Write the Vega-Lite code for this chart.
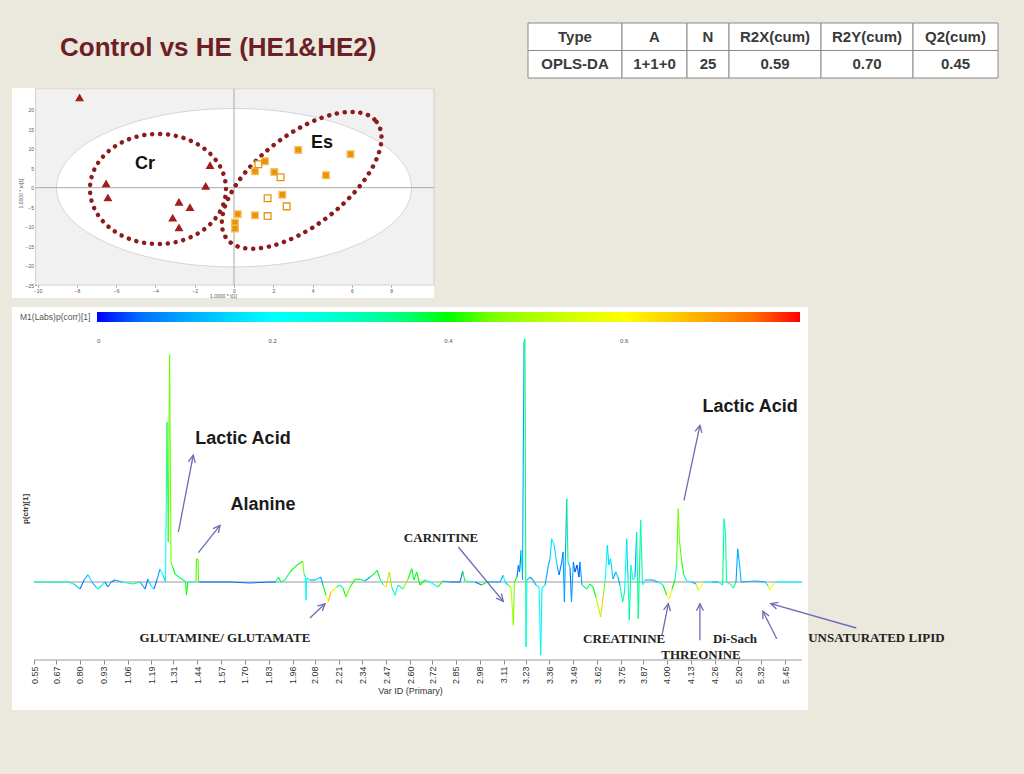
{
  "$schema": "https://vega.github.io/schema/vega-lite/v6.json",
  "background": "#ebe8dd",
  "padding": {"left": 12, "top": 22, "right": 27, "bottom": 66},
  "config": {
    "view": {"stroke": null},
    "font": "Liberation Sans",
    "axis": {"labelFont": "Liberation Sans", "titleFont": "Liberation Sans", "grid": false, "labelOverlap": false}
  },
  "resolve": {"scale": {"color": "independent", "fill": "independent", "stroke": "independent", "shape": "independent"}, "legend": {"color": "independent"}},
  "datasets": {
    "tbl": [
      {"col": "Type", "row": "h", "t": "Type"}, {"col": "Type", "row": "b", "t": "OPLS-DA"},
      {"col": "A", "row": "h", "t": "A"}, {"col": "A", "row": "b", "t": "1+1+0"},
      {"col": "N", "row": "h", "t": "N"}, {"col": "N", "row": "b", "t": "25"},
      {"col": "R2X", "row": "h", "t": "R2X(cum)"}, {"col": "R2X", "row": "b", "t": "0.59"},
      {"col": "R2Y", "row": "h", "t": "R2Y(cum)"}, {"col": "R2Y", "row": "b", "t": "0.70"},
      {"col": "Q2", "row": "h", "t": "Q2(cum)"}, {"col": "Q2", "row": "b", "t": "0.45"}
    ],
    "scores": [
      {"cls": "Control", "t1": -7.86, "to1": 23.1}, {"cls": "Control", "t1": -6.51, "to1": 1.0},
      {"cls": "Control", "t1": -6.42, "to1": -2.6}, {"cls": "Control", "t1": -1.22, "to1": 5.7},
      {"cls": "Control", "t1": -1.44, "to1": 0.4}, {"cls": "Control", "t1": -2.80, "to1": -3.7},
      {"cls": "Control", "t1": -2.24, "to1": -5.1}, {"cls": "Control", "t1": -3.12, "to1": -7.8},
      {"cls": "Control", "t1": -2.80, "to1": -10.3},
      {"cls": "HE1", "t1": 3.27, "to1": 9.7}, {"cls": "HE1", "t1": 5.93, "to1": 8.6},
      {"cls": "HE1", "t1": 1.58, "to1": 6.8}, {"cls": "HE1", "t1": 1.07, "to1": 4.2},
      {"cls": "HE1", "t1": 2.05, "to1": 4.0}, {"cls": "HE1", "t1": 4.68, "to1": 3.2},
      {"cls": "HE1", "t1": 2.46, "to1": -1.8}, {"cls": "HE1", "t1": 0.19, "to1": -6.8},
      {"cls": "HE1", "t1": 1.07, "to1": -7.1}, {"cls": "HE1", "t1": 0.05, "to1": -9.0},
      {"cls": "HE1", "t1": 0.05, "to1": -10.5},
      {"cls": "HE2", "t1": 1.24, "to1": 6.0}, {"cls": "HE2", "t1": 2.37, "to1": 2.7},
      {"cls": "HE2", "t1": 1.71, "to1": -2.7}, {"cls": "HE2", "t1": 2.68, "to1": -4.8},
      {"cls": "HE2", "t1": 1.71, "to1": -7.3}
    ],
    "spectrum": [
      {"ppm": 0.550, "p": 0, "c": 0.3}, {"ppm": 0.637, "p": 0, "c": 0.32}, {"ppm": 0.735, "p": 0, "c": 0.3},
      {"ppm": 0.768, "p": -0.02, "c": 0.15}, {"ppm": 0.801, "p": -0.07, "c": 0.05}, {"ppm": 0.823, "p": 0.02, "c": 0.1},
      {"ppm": 0.844, "p": 0.073, "c": 0.15}, {"ppm": 0.866, "p": 0, "c": 0.1}, {"ppm": 0.888, "p": -0.05, "c": 0.2},
      {"ppm": 0.900, "p": -0.07, "c": 0.3}, {"ppm": 0.921, "p": -0.03, "c": 0.2}, {"ppm": 0.937, "p": 0, "c": 0.05},
      {"ppm": 0.953, "p": -0.05, "c": 0.1}, {"ppm": 0.970, "p": 0, "c": 0.05}, {"ppm": 0.992, "p": 0.02, "c": 0.1},
      {"ppm": 1.030, "p": 0, "c": 0.3}, {"ppm": 1.090, "p": -0.02, "c": 0.35}, {"ppm": 1.128, "p": 0, "c": 0.1},
      {"ppm": 1.155, "p": -0.07, "c": 0.05}, {"ppm": 1.171, "p": 0.03, "c": 0.15}, {"ppm": 1.188, "p": -0.04, "c": 0.2},
      {"ppm": 1.204, "p": -0.07, "c": 0.05}, {"ppm": 1.220, "p": 0.02, "c": 0.1}, {"ppm": 1.237, "p": 0.13, "c": 0.2},
      {"ppm": 1.253, "p": 0.07, "c": 0.15}, {"ppm": 1.267, "p": 0, "c": 0.2}, {"ppm": 1.275, "p": 1.60, "c": 0.42},
      {"ppm": 1.282, "p": 0.40, "c": 0.42}, {"ppm": 1.289, "p": 2.273, "c": 0.44}, {"ppm": 1.297, "p": 0.20, "c": 0.42},
      {"ppm": 1.308, "p": 0.14, "c": 0.4}, {"ppm": 1.319, "p": 0.08, "c": 0.35}, {"ppm": 1.346, "p": 0.04, "c": 0.35},
      {"ppm": 1.373, "p": 0.01, "c": 0.3}, {"ppm": 1.376, "p": 0, "c": 0.4}, {"ppm": 1.381, "p": -0.13, "c": 0.4},
      {"ppm": 1.389, "p": 0, "c": 0.3}, {"ppm": 1.400, "p": 0, "c": 0.2}, {"ppm": 1.428, "p": 0, "c": 0.2},
      {"ppm": 1.433, "p": 0, "c": 0.42}, {"ppm": 1.436, "p": 0.23, "c": 0.42}, {"ppm": 1.444, "p": 0.23, "c": 0.42},
      {"ppm": 1.447, "p": 0, "c": 0.1}, {"ppm": 1.455, "p": 0, "c": 0.05}, {"ppm": 1.618, "p": 0, "c": 0.05},
      {"ppm": 1.727, "p": -0.01, "c": 0.05}, {"ppm": 1.836, "p": 0, "c": 0.05}, {"ppm": 1.869, "p": 0, "c": 0.3},
      {"ppm": 1.882, "p": 0.05, "c": 0.4}, {"ppm": 1.896, "p": 0, "c": 0.3}, {"ppm": 1.918, "p": 0.02, "c": 0.35},
      {"ppm": 1.945, "p": 0.10, "c": 0.4}, {"ppm": 1.982, "p": 0.167, "c": 0.4}, {"ppm": 2.015, "p": 0.207, "c": 0.45},
      {"ppm": 2.022, "p": 0.08, "c": 0.35}, {"ppm": 2.030, "p": 0.05, "c": 0.2}, {"ppm": 2.033, "p": -0.183, "c": 0.2},
      {"ppm": 2.037, "p": 0.04, "c": 0.2}, {"ppm": 2.054, "p": 0.02, "c": 0.1}, {"ppm": 2.082, "p": 0.02, "c": 0.15},
      {"ppm": 2.113, "p": 0.05, "c": 0.1}, {"ppm": 2.125, "p": -0.03, "c": 0.4}, {"ppm": 2.142, "p": -0.133, "c": 0.6},
      {"ppm": 2.154, "p": -0.193, "c": 0.68}, {"ppm": 2.169, "p": -0.10, "c": 0.55}, {"ppm": 2.200, "p": -0.05, "c": 0.35},
      {"ppm": 2.218, "p": -0.03, "c": 0.25}, {"ppm": 2.234, "p": -0.06, "c": 0.4}, {"ppm": 2.251, "p": -0.15, "c": 0.45},
      {"ppm": 2.273, "p": -0.05, "c": 0.4}, {"ppm": 2.300, "p": 0.027, "c": 0.4}, {"ppm": 2.327, "p": 0.027, "c": 0.35},
      {"ppm": 2.354, "p": 0.01, "c": 0.1}, {"ppm": 2.382, "p": 0.05, "c": 0.35}, {"ppm": 2.403, "p": 0.08, "c": 0.4},
      {"ppm": 2.421, "p": 0.117, "c": 0.4}, {"ppm": 2.436, "p": 0.03, "c": 0.3}, {"ppm": 2.454, "p": -0.03, "c": 0.6},
      {"ppm": 2.469, "p": -0.05, "c": 0.65}, {"ppm": 2.487, "p": 0.10, "c": 0.45}, {"ppm": 2.500, "p": -0.05, "c": 0.3},
      {"ppm": 2.518, "p": -0.133, "c": 0.2}, {"ppm": 2.534, "p": -0.03, "c": 0.3}, {"ppm": 2.561, "p": -0.07, "c": 0.45},
      {"ppm": 2.589, "p": 0.03, "c": 0.4}, {"ppm": 2.609, "p": 0.133, "c": 0.4}, {"ppm": 2.621, "p": 0.02, "c": 0.35},
      {"ppm": 2.636, "p": 0.10, "c": 0.4}, {"ppm": 2.654, "p": -0.03, "c": 0.4}, {"ppm": 2.681, "p": 0.02, "c": 0.3},
      {"ppm": 2.709, "p": 0, "c": 0.2}, {"ppm": 2.752, "p": -0.05, "c": 0.4}, {"ppm": 2.779, "p": 0.01, "c": 0.1},
      {"ppm": 2.818, "p": 0, "c": 0.05}, {"ppm": 2.872, "p": 0, "c": 0.05}, {"ppm": 2.887, "p": 0.107, "c": 0.4},
      {"ppm": 2.899, "p": 0.01, "c": 0.3}, {"ppm": 2.954, "p": 0, "c": 0.05}, {"ppm": 2.990, "p": -0.03, "c": 0.4},
      {"ppm": 3.019, "p": 0, "c": 0.1}, {"ppm": 3.090, "p": 0, "c": 0.1}, {"ppm": 3.108, "p": 0.067, "c": 0.2},
      {"ppm": 3.117, "p": 0, "c": 0.15}, {"ppm": 3.134, "p": -0.03, "c": 0.45}, {"ppm": 3.150, "p": -0.05, "c": 0.5},
      {"ppm": 3.163, "p": -0.433, "c": 0.45}, {"ppm": 3.169, "p": 0, "c": 0.4}, {"ppm": 3.183, "p": 0.05, "c": 0.05},
      {"ppm": 3.190, "p": 0.167, "c": 0.05}, {"ppm": 3.197, "p": 0.10, "c": 0.05}, {"ppm": 3.205, "p": 0.317, "c": 0.3},
      {"ppm": 3.213, "p": 0.02, "c": 0.1}, {"ppm": 3.221, "p": 2.40, "c": 0.3}, {"ppm": 3.226, "p": 2.433, "c": 0.35},
      {"ppm": 3.232, "p": -0.65, "c": 0.22}, {"ppm": 3.237, "p": 0.02, "c": 0.15}, {"ppm": 3.254, "p": 0.05, "c": 0.1},
      {"ppm": 3.270, "p": 0.02, "c": 0.1}, {"ppm": 3.286, "p": -0.03, "c": 0.3}, {"ppm": 3.303, "p": -0.05, "c": 0.2},
      {"ppm": 3.312, "p": -0.733, "c": 0.18}, {"ppm": 3.319, "p": -0.06, "c": 0.2}, {"ppm": 3.336, "p": -0.03, "c": 0.1},
      {"ppm": 3.354, "p": 0.167, "c": 0.1}, {"ppm": 3.363, "p": 0.233, "c": 0.15}, {"ppm": 3.372, "p": 0.433, "c": 0.2},
      {"ppm": 3.385, "p": 0.37, "c": 0.15}, {"ppm": 3.401, "p": 0.17, "c": 0.1}, {"ppm": 3.412, "p": 0.07, "c": 0.05},
      {"ppm": 3.427, "p": 0.20, "c": 0.05}, {"ppm": 3.434, "p": 0.30, "c": 0.1}, {"ppm": 3.441, "p": -0.20, "c": 0.1},
      {"ppm": 3.454, "p": 0.833, "c": 0.35}, {"ppm": 3.461, "p": 0.20, "c": 0.15}, {"ppm": 3.472, "p": 0.14, "c": 0.05},
      {"ppm": 3.480, "p": -0.20, "c": 0.1}, {"ppm": 3.490, "p": 0.20, "c": 0.05}, {"ppm": 3.499, "p": 0.10, "c": 0.03},
      {"ppm": 3.510, "p": 0.17, "c": 0.03}, {"ppm": 3.521, "p": 0.05, "c": 0.03}, {"ppm": 3.526, "p": 0.20, "c": 0.1},
      {"ppm": 3.537, "p": -0.03, "c": 0.3}, {"ppm": 3.563, "p": -0.07, "c": 0.4}, {"ppm": 3.581, "p": -0.02, "c": 0.35},
      {"ppm": 3.597, "p": -0.05, "c": 0.4}, {"ppm": 3.613, "p": -0.15, "c": 0.5}, {"ppm": 3.639, "p": -0.35, "c": 0.65},
      {"ppm": 3.652, "p": -0.15, "c": 0.45}, {"ppm": 3.663, "p": 0, "c": 0.2}, {"ppm": 3.675, "p": 0.367, "c": 0.15},
      {"ppm": 3.684, "p": 0.17, "c": 0.15}, {"ppm": 3.693, "p": 0.233, "c": 0.15}, {"ppm": 3.706, "p": 0.03, "c": 0.1},
      {"ppm": 3.722, "p": 0.10, "c": 0.15}, {"ppm": 3.733, "p": 0.05, "c": 0.1}, {"ppm": 3.744, "p": -0.03, "c": 0.3},
      {"ppm": 3.759, "p": -0.20, "c": 0.35}, {"ppm": 3.769, "p": -0.10, "c": 0.25}, {"ppm": 3.781, "p": 0.433, "c": 0.15},
      {"ppm": 3.788, "p": 0.02, "c": 0.2}, {"ppm": 3.795, "p": -0.383, "c": 0.35}, {"ppm": 3.804, "p": 0.17, "c": 0.2},
      {"ppm": 3.815, "p": 0.02, "c": 0.2}, {"ppm": 3.826, "p": 0.05, "c": 0.1}, {"ppm": 3.835, "p": 0.50, "c": 0.3},
      {"ppm": 3.844, "p": -0.367, "c": 0.35}, {"ppm": 3.857, "p": 0.617, "c": 0.3}, {"ppm": 3.867, "p": -0.03, "c": 0.2},
      {"ppm": 3.881, "p": 0.02, "c": 0.1}, {"ppm": 3.924, "p": 0.02, "c": 0.1}, {"ppm": 3.951, "p": 0, "c": 0.2},
      {"ppm": 3.979, "p": -0.03, "c": 0.4}, {"ppm": 3.999, "p": -0.133, "c": 0.6}, {"ppm": 4.013, "p": -0.167, "c": 0.62},
      {"ppm": 4.028, "p": -0.07, "c": 0.4}, {"ppm": 4.044, "p": 0.02, "c": 0.3}, {"ppm": 4.053, "p": 0.167, "c": 0.42},
      {"ppm": 4.062, "p": 0.733, "c": 0.45}, {"ppm": 4.069, "p": 0.40, "c": 0.42}, {"ppm": 4.081, "p": 0.20, "c": 0.4},
      {"ppm": 4.091, "p": 0.08, "c": 0.3}, {"ppm": 4.108, "p": 0.01, "c": 0.2}, {"ppm": 4.137, "p": 0, "c": 0.1},
      {"ppm": 4.159, "p": -0.02, "c": 0.5}, {"ppm": 4.171, "p": -0.083, "c": 0.6}, {"ppm": 4.186, "p": -0.05, "c": 0.58},
      {"ppm": 4.198, "p": 0, "c": 0.2}, {"ppm": 4.246, "p": 0, "c": 0.1}, {"ppm": 4.396, "p": 0, "c": 0.2},
      {"ppm": 4.584, "p": -0.03, "c": 0.35}, {"ppm": 4.616, "p": 0.40, "c": 0.3}, {"ppm": 4.636, "p": 0.633, "c": 0.3},
      {"ppm": 4.697, "p": 0.47, "c": 0.3}, {"ppm": 4.737, "p": 0, "c": 0.2}, {"ppm": 4.877, "p": -0.02, "c": 0.3},
      {"ppm": 5.009, "p": -0.06, "c": 0.35}, {"ppm": 5.117, "p": 0, "c": 0.1}, {"ppm": 5.185, "p": 0.333, "c": 0.12},
      {"ppm": 5.208, "p": 0.17, "c": 0.12}, {"ppm": 5.216, "p": 0, "c": 0.1}, {"ppm": 5.291, "p": 0.01, "c": 0.1},
      {"ppm": 5.344, "p": 0, "c": 0.15}, {"ppm": 5.360, "p": -0.04, "c": 0.55}, {"ppm": 5.370, "p": -0.083, "c": 0.6},
      {"ppm": 5.381, "p": -0.04, "c": 0.55}, {"ppm": 5.397, "p": 0, "c": 0.2}, {"ppm": 5.541, "p": 0, "c": 0.15}
    ],
    "arrows": [
      {"x1": 1.337, "y1": 0.50, "x2": 1.418, "y2": 1.267, "dir": 11},
      {"x1": 1.446, "y1": 0.293, "x2": 1.564, "y2": 0.567, "dir": 38},
      {"x1": 2.863, "y1": 0.35, "x2": 3.108, "y2": -0.193, "dir": 140},
      {"x1": 2.054, "y1": -0.36, "x2": 2.136, "y2": -0.217, "dir": 46},
      {"x1": 4.093, "y1": 0.817, "x2": 4.180, "y2": 1.567, "dir": 12},
      {"x1": 3.973, "y1": -0.533, "x2": 4.008, "y2": -0.217, "dir": 11},
      {"x1": 4.180, "y1": -0.583, "x2": 4.180, "y2": -0.217, "dir": 0},
      {"x1": 5.406, "y1": -0.567, "x2": 5.332, "y2": -0.293, "dir": 333},
      {"x1": 5.828, "y1": -0.46, "x2": 5.374, "y2": -0.217, "dir": 287}
    ],
    "labelsSans": [
      {"t": "Lactic Acid", "x": 1.689, "y": 1.43},
      {"t": "Alanine", "x": 1.798, "y": 0.77},
      {"t": "Lactic Acid", "x": 5.264, "y": 1.75}
    ],
    "labelsSerif": [
      {"t": "CARNITINE", "x": 2.769, "y": 0.44},
      {"t": "GLUTAMINE/  GLUTAMATE", "x": 1.591, "y": -0.56},
      {"t": "CREATININE", "x": 3.767, "y": -0.567},
      {"t": "THREONINE", "x": 4.186, "y": -0.727},
      {"t": "Di-Sach", "x": 5.077, "y": -0.567},
      {"t": "UNSATURATED  LIPID", "x": 5.935, "y": -0.56}
    ]
  },
  "spacing": 9,
  "vconcat": [
    {
      "spacing": 93,
      "hconcat": [
        {
          "width": 422, "height": 55,
          "title": {"text": "Control vs HE (HE1&HE2)", "anchor": "start", "frame": "group", "offset": -59, "dx": 48, "baseline": "alphabetic", "fontSize": 26, "font": "Liberation Sans", "fontWeight": "bold", "color": "#6d1f28"},
          "data": {"values": [{}]},
          "mark": {"type": "point", "opacity": 0}
        },
        {
          "spacing": 0,
          "bounds": "flush",
          "hconcat": [
            {"width": 94, "height": 55, "data": {"name": "tbl"}, "transform": [{"filter": "datum.col === 'Type'"}],
             "encoding": {"y": {"field": "row", "type": "nominal", "sort": ["h", "b"], "axis": null, "scale": {"paddingInner": 0, "paddingOuter": 0}}},
             "layer": [{"mark": {"type": "rect", "fill": "#ffffff", "stroke": "#8a8a8a", "strokeWidth": 1}},
                       {"mark": {"type": "text", "fontSize": 15, "fontWeight": "bold", "color": "#3a3a3a"}, "encoding": {"text": {"field": "t"}}}]},
            {"width": 65, "height": 55, "data": {"name": "tbl"}, "transform": [{"filter": "datum.col === 'A'"}],
             "encoding": {"y": {"field": "row", "type": "nominal", "sort": ["h", "b"], "axis": null, "scale": {"paddingInner": 0, "paddingOuter": 0}}},
             "layer": [{"mark": {"type": "rect", "fill": "#ffffff", "stroke": "#8a8a8a", "strokeWidth": 1}},
                       {"mark": {"type": "text", "fontSize": 15, "fontWeight": "bold", "color": "#3a3a3a"}, "encoding": {"text": {"field": "t"}}}]},
            {"width": 42, "height": 55, "data": {"name": "tbl"}, "transform": [{"filter": "datum.col === 'N'"}],
             "encoding": {"y": {"field": "row", "type": "nominal", "sort": ["h", "b"], "axis": null, "scale": {"paddingInner": 0, "paddingOuter": 0}}},
             "layer": [{"mark": {"type": "rect", "fill": "#ffffff", "stroke": "#8a8a8a", "strokeWidth": 1}},
                       {"mark": {"type": "text", "fontSize": 15, "fontWeight": "bold", "color": "#3a3a3a"}, "encoding": {"text": {"field": "t"}}}]},
            {"width": 92, "height": 55, "data": {"name": "tbl"}, "transform": [{"filter": "datum.col === 'R2X'"}],
             "encoding": {"y": {"field": "row", "type": "nominal", "sort": ["h", "b"], "axis": null, "scale": {"paddingInner": 0, "paddingOuter": 0}}},
             "layer": [{"mark": {"type": "rect", "fill": "#ffffff", "stroke": "#8a8a8a", "strokeWidth": 1}},
                       {"mark": {"type": "text", "fontSize": 15, "fontWeight": "bold", "color": "#3a3a3a"}, "encoding": {"text": {"field": "t"}}}]},
            {"width": 92, "height": 55, "data": {"name": "tbl"}, "transform": [{"filter": "datum.col === 'R2Y'"}],
             "encoding": {"y": {"field": "row", "type": "nominal", "sort": ["h", "b"], "axis": null, "scale": {"paddingInner": 0, "paddingOuter": 0}}},
             "layer": [{"mark": {"type": "rect", "fill": "#ffffff", "stroke": "#8a8a8a", "strokeWidth": 1}},
                       {"mark": {"type": "text", "fontSize": 15, "fontWeight": "bold", "color": "#3a3a3a"}, "encoding": {"text": {"field": "t"}}}]},
            {"width": 85, "height": 55, "data": {"name": "tbl"}, "transform": [{"filter": "datum.col === 'Q2'"}],
             "encoding": {"y": {"field": "row", "type": "nominal", "sort": ["h", "b"], "axis": null, "scale": {"paddingInner": 0, "paddingOuter": 0}}},
             "layer": [{"mark": {"type": "rect", "fill": "#ffffff", "stroke": "#8a8a8a", "strokeWidth": 1}},
                       {"mark": {"type": "text", "fontSize": 15, "fontWeight": "bold", "color": "#3a3a3a"}, "encoding": {"text": {"field": "t"}}}]}
          ]
        }
      ]
    },
    {
      "width": 422, "height": 210,
      "view": {"fill": "#ffffff", "stroke": null},
      "layer": [
        {
          "data": {"values": [{}]},
          "mark": {"type": "rect", "fill": "#f1f1f1", "stroke": "#c8c8c8", "strokeWidth": 0.8},
          "encoding": {
            "x": {"datum": -10.1, "type": "quantitative",
                  "scale": {"domain": [-11.3, 10.18], "nice": false, "zero": false},
                  "axis": {"orient": "bottom", "offset": -13, "values": [-10, -8, -6, -4, -2, 0, 2, 4, 6, 8], "format": "d", "tickCount": 100, "labelOverlap": false, "title": "1.0000 * t[1]", "domain": false, "tickSize": 2, "tickColor": "#999999", "labelFontSize": 5, "labelColor": "#555555", "labelPadding": 1, "titleFontSize": 5, "titleFontWeight": "normal", "titleColor": "#555555", "titlePadding": 0}},
            "x2": {"datum": 10.18},
            "y": {"datum": -25, "type": "quantitative",
                  "scale": {"domain": [-28.33, 25.6], "nice": false, "zero": false},
                  "axis": {"orient": "left", "offset": -24.5, "values": [-25, -20, -15, -10, -5, 0, 5, 10, 15, 20], "format": "d", "tickCount": 100, "labelOverlap": false, "title": "1.0000 * to[1]", "domain": false, "tickSize": 2, "tickColor": "#999999", "labelFontSize": 5, "labelColor": "#555555", "labelPadding": 1, "titleFontSize": 5, "titleFontWeight": "normal", "titleColor": "#555555", "titlePadding": 2}},
            "y2": {"datum": 25.4}
          }
        },
        {
          "data": {"values": [{"t1": 0, "to1": 0}]},
          "mark": {"type": "point", "shape": "M 1 0 C 1 0.2464 0.5523 0.4462 0 0.4462 C -0.5523 0.4462 -1 0.2464 -1 0 C -1 -0.2464 -0.5523 -0.4462 0 -0.4462 C 0.5523 -0.4462 1 -0.2464 1 0 Z", "size": 126025, "filled": true, "fill": "#ffffff", "stroke": "#d6d6d6", "strokeWidth": 1, "opacity": 1},
          "encoding": {"x": {"field": "t1", "type": "quantitative"}, "y": {"field": "to1", "type": "quantitative"}}
        },
        {
          "data": {"values": [{}]},
          "mark": {"type": "rule", "color": "#a8a8a8", "strokeWidth": 1},
          "encoding": {"x": {"datum": 0, "type": "quantitative"}, "y": {"datum": -25, "type": "quantitative"}, "y2": {"datum": 25.4}}
        },
        {
          "data": {"values": [{}]},
          "mark": {"type": "rule", "color": "#a8a8a8", "strokeWidth": 1},
          "encoding": {"y": {"datum": 0, "type": "quantitative"}, "x": {"datum": -10.1, "type": "quantitative"}, "x2": {"datum": 10.18}}
        },
        {
          "data": {"values": [{"t1": -3.87, "to1": -0.33}]},
          "mark": {"type": "point", "shape": "M 1 0 C 1 0.4468 0.5523 0.809 0 0.809 C -0.5523 0.809 -1 0.4468 -1 0 C -1 -0.4468 -0.5523 -0.809 0 -0.809 C 0.5523 -0.809 1 -0.4468 1 0 Z", "size": 18496, "filled": false, "fill": "transparent", "stroke": "#8e1b1b", "strokeWidth": 4.5, "strokeDash": [0.1, 7.8], "strokeCap": "round", "opacity": 1},
          "encoding": {"x": {"field": "t1", "type": "quantitative"}, "y": {"field": "to1", "type": "quantitative"}}
        },
        {
          "data": {"values": [{"t1": 3.445, "to1": 1.9}]},
          "mark": {"type": "point", "shape": "M 0.788 -0.6157 C 0.9491 -0.4095 0.7269 0.0333 0.2917 0.3733 C -0.1435 0.7133 -0.6269 0.8219 -0.788 0.6157 C -0.9491 0.4095 -0.7269 -0.0333 -0.2917 -0.3733 C 0.1435 -0.7133 0.6269 -0.8219 0.788 -0.6157 Z", "size": 36100, "filled": false, "fill": "transparent", "stroke": "#8e1b1b", "strokeWidth": 4.5, "strokeDash": [0.1, 7.8], "strokeCap": "round", "opacity": 1},
          "encoding": {"x": {"field": "t1", "type": "quantitative"}, "y": {"field": "to1", "type": "quantitative"}}
        },
        {
          "data": {"name": "scores"},
          "mark": {"type": "point", "filled": true, "size": 45, "strokeWidth": 1.3, "opacity": 1},
          "encoding": {
            "x": {"field": "t1", "type": "quantitative"},
            "y": {"field": "to1", "type": "quantitative"},
            "shape": {"field": "cls", "type": "nominal", "scale": {"domain": ["Control", "HE1", "HE2"], "range": ["triangle-up", "square", "square"]}, "legend": null},
            "fill": {"field": "cls", "type": "nominal", "scale": {"domain": ["Control", "HE1", "HE2"], "range": ["#a31d1d", "#e8930e", "#ffffff"]}, "legend": null},
            "stroke": {"field": "cls", "type": "nominal", "scale": {"domain": ["Control", "HE1", "HE2"], "range": ["#a31d1d", "#f6c25d", "#e8930e"]}, "legend": null}
          }
        },
        {
          "data": {"values": [{"g": "Cr", "t1": -4.53, "to1": 6.1}, {"g": "Es", "t1": 4.48, "to1": 11.5}]},
          "mark": {"type": "text", "fontSize": 18, "fontWeight": "bold", "color": "#111111"},
          "encoding": {"x": {"field": "t1", "type": "quantitative"}, "y": {"field": "to1", "type": "quantitative"}, "text": {"field": "g"}}
        }
      ]
    },
    {
      "width": 796, "height": 403,
      "view": {"fill": "#ffffff", "stroke": null},
      "layer": [
        {
          "data": {"values": [{}]},
          "mark": {"type": "rule", "color": "#9a9a9a", "strokeWidth": 1},
          "encoding": {
            "x": {"datum": 0.55, "type": "quantitative",
                  "scale": {"domain": [0.43, 0.55, 4.26, 5.2, 5.45, 5.572], "range": [0, 22, 702.6, 726.1, 773, 796], "nice": false, "zero": false},
                  "axis": {"orient": "bottom", "offset": -50, "values": [0.55, 0.67, 0.80, 0.93, 1.06, 1.19, 1.31, 1.44, 1.57, 1.70, 1.83, 1.96, 2.08, 2.21, 2.34, 2.47, 2.60, 2.72, 2.85, 2.98, 3.11, 3.23, 3.36, 3.49, 3.62, 3.75, 3.87, 4.00, 4.13, 4.26, 5.20, 5.32, 5.45], "tickCount": 100, "labelOverlap": false, "labelBound": false, "format": ".2f", "labelAngle": -90, "labelFontSize": 9, "labelColor": "#333333", "labelPadding": 2, "tickSize": 4, "tickColor": "#888888", "domain": false, "title": "Var ID (Primary)", "titleFontSize": 9, "titleFontWeight": "normal", "titleColor": "#333333", "titlePadding": 3}},
            "x2": {"datum": 5.54},
            "y": {"datum": 0, "type": "quantitative",
                  "scale": {"domain": [-1.28, 2.75], "nice": false, "zero": false},
                  "axis": {"orient": "left", "offset": -22, "labels": false, "ticks": false, "domain": false, "title": "p(ctr)[1]", "titleFontSize": 8, "titleFontWeight": "bold", "titleColor": "#333333", "titlePadding": 5}}
          }
        },
        {
          "data": {"values": [{}]},
          "mark": {"type": "rule", "color": "#9a9a9a", "strokeWidth": 1},
          "encoding": {"x": {"datum": 0.55, "type": "quantitative"}, "x2": {"datum": 5.54}, "y": {"datum": -0.78, "type": "quantitative"}}
        },
        {
          "data": {"name": "spectrum"},
          "transform": [
            {"window": [{"op": "lead", "field": "ppm", "as": "ppm2"}, {"op": "lead", "field": "p", "as": "p2"}], "sort": [{"field": "ppm", "order": "ascending"}]},
            {"filter": "isValid(datum.ppm2)"}
          ],
          "mark": {"type": "rule", "strokeWidth": 1.1},
          "encoding": {
            "x": {"field": "ppm", "type": "quantitative"},
            "x2": {"field": "ppm2"},
            "y": {"field": "p", "type": "quantitative"},
            "y2": {"field": "p2"},
            "color": {"field": "c", "type": "quantitative",
                      "scale": {"domain": [0, 0.2, 0.4, 0.6, 0.8], "range": ["#0000ff", "#00ffff", "#00ff00", "#ffff00", "#ff0000"]},
                      "legend": {"orient": "none", "legendX": 8, "legendY": 5, "direction": "horizontal", "gradientLength": 703, "gradientThickness": 10, "gradientStrokeWidth": 0, "title": "M1(Labs)p(corr)[1]", "titleOrient": "left", "titleFontSize": 8.5, "titleFontWeight": "normal", "titleColor": "#555555", "titlePadding": 6, "labelFontSize": 6, "labelColor": "#555555", "labelOffset": 16, "values": [0, 0.2, 0.4, 0.6], "format": "~g"}}
          }
        },
        {
          "data": {"name": "arrows"},
          "mark": {"type": "rule", "color": "#6b6bb5", "strokeWidth": 1.3},
          "encoding": {"x": {"field": "x1", "type": "quantitative"}, "x2": {"field": "x2"}, "y": {"field": "y1", "type": "quantitative"}, "y2": {"field": "y2"}}
        },
        {
          "data": {"name": "arrows"},
          "mark": {"type": "point", "shape": "M -0.5 1 L 0 0 L 0.5 1", "size": 196, "filled": false, "fill": "transparent", "stroke": "#6b6bb5", "strokeWidth": 1.3, "opacity": 1},
          "encoding": {"x": {"field": "x2", "type": "quantitative"}, "y": {"field": "y2", "type": "quantitative"}, "angle": {"field": "dir", "type": "quantitative", "scale": null}}
        },
        {
          "data": {"name": "labelsSans"},
          "mark": {"type": "text", "font": "Liberation Sans", "fontSize": 18, "fontWeight": "bold", "color": "#1a1a1a"},
          "encoding": {"x": {"field": "x", "type": "quantitative"}, "y": {"field": "y", "type": "quantitative"}, "text": {"field": "t"}}
        },
        {
          "data": {"name": "labelsSerif"},
          "mark": {"type": "text", "font": "Liberation Serif", "fontSize": 13, "fontWeight": "bold", "color": "#222222"},
          "encoding": {"x": {"field": "x", "type": "quantitative"}, "y": {"field": "y", "type": "quantitative"}, "text": {"field": "t"}}
        }
      ]
    }
  ]
}
